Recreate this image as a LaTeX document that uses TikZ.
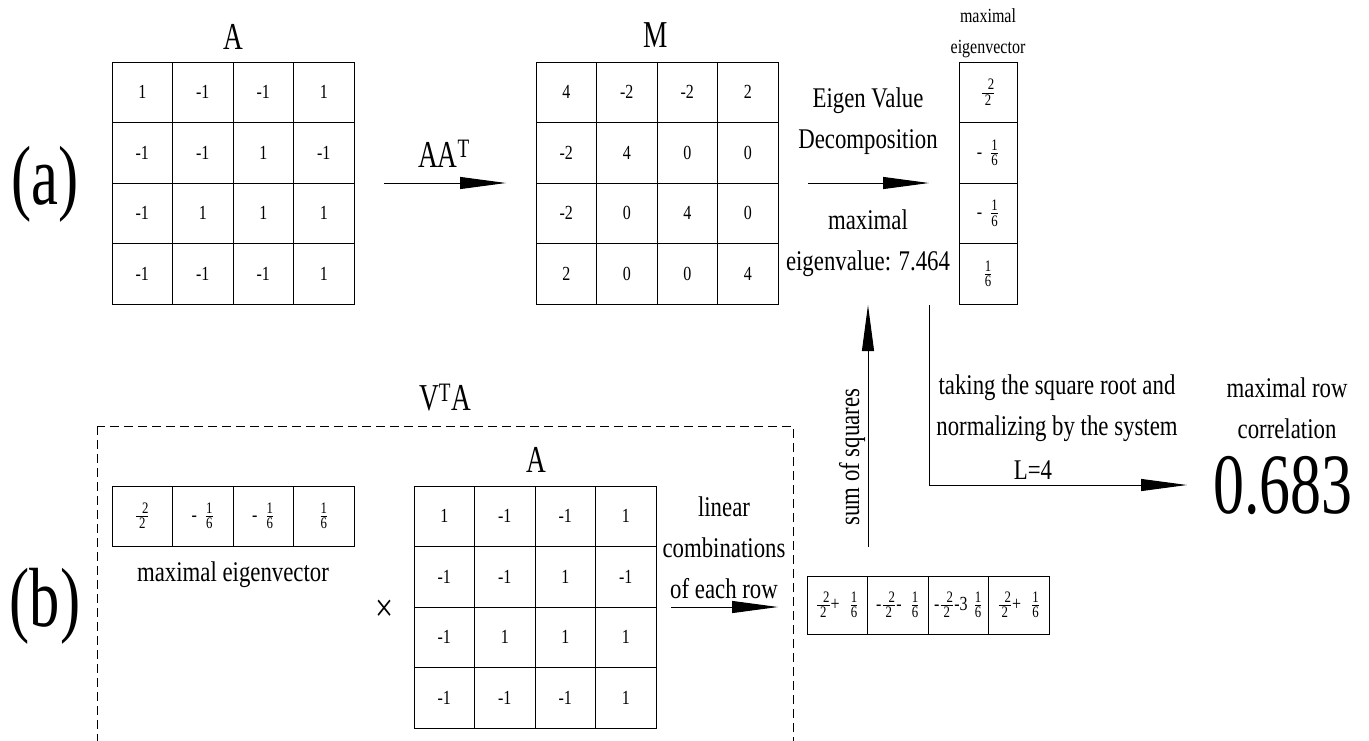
\documentclass[tikz,border=0pt]{standalone}
\usepackage{amsmath}
\usepackage{fontspec}
\setmainfont[FakeStretch=0.8]{Liberation Serif}
\newfontfamily\narrowfont[FakeStretch=0.72]{Liberation Serif}
\usetikzlibrary{arrows.meta}

\newcommand{\fr}[2]{$\genfrac{}{}{0.6pt}{}{\hbox{\fontsize{16}{16}\selectfont #1}}{\hbox{\fontsize{16}{16}\selectfont #2}}$}
\newcommand{\frb}{\fr{\hspace{6pt}2}{2}}

\tikzset{
  cell/.style={draw, line width=1pt, minimum width=60.5pt, minimum height=60.5pt, inner sep=0pt, font=\fontsize{20}{22}\selectfont},
  colcell/.style={cell, minimum width=58pt},
  rowcell/.style={cell, minimum height=60pt},
  rescell/.style={cell, minimum height=58pt},
  lbl/.style={font=\fontsize{28.5}{41}\selectfont, align=center, inner sep=0pt},
  smalllbl/.style={font=\fontsize{20}{31}\selectfont, align=center, inner sep=0pt},
  title/.style={font=\narrowfont\fontsize{38}{40}\selectfont, inner sep=0pt},
  big/.style={font=\narrowfont\fontsize{84}{84}\selectfont, inner sep=0pt},
  conn/.style={line width=1pt, -{Triangle[length=46pt,width=12pt]}}
}

\begin{document}
\begin{tikzpicture}[x=1pt, y=-1pt]
    \useasboundingbox (0,0) rectangle (1369,740);
    \clip (0,0) rectangle (1369,740);
    % part (a)
    \node[big] (lblA) at (45,184) {(a)};
    \node[title] (titleA) at (233,37) {A};
    \node[cell] (Aa11) at (142.25,92.25) {1};
    \node[cell] (Aa12) at (202.75,92.25) {-1};
    \node[cell] (Aa13) at (263.25,92.25) {-1};
    \node[cell] (Aa14) at (323.75,92.25) {1};
    \node[cell] (Aa21) at (142.25,152.75) {-1};
    \node[cell] (Aa22) at (202.75,152.75) {-1};
    \node[cell] (Aa23) at (263.25,152.75) {1};
    \node[cell] (Aa24) at (323.75,152.75) {-1};
    \node[cell] (Aa31) at (142.25,213.25) {-1};
    \node[cell] (Aa32) at (202.75,213.25) {1};
    \node[cell] (Aa33) at (263.25,213.25) {1};
    \node[cell] (Aa34) at (323.75,213.25) {1};
    \node[cell] (Aa41) at (142.25,273.75) {-1};
    \node[cell] (Aa42) at (202.75,273.75) {-1};
    \node[cell] (Aa43) at (263.25,273.75) {-1};
    \node[cell] (Aa44) at (323.75,273.75) {1};

    \coordinate (aatS) at (384,183);
    \coordinate (aatE) at (506,183);
    \draw[conn] (aatS) -- (aatE);
    \node[title, anchor=base] (aat) at (444,167) {AA\textsuperscript{T}};

    \node[title] (titleM) at (656,35) {M};
    \node[cell] (M11) at (566.25,92.25) {4};
    \node[cell] (M12) at (626.75,92.25) {-2};
    \node[cell] (M13) at (687.25,92.25) {-2};
    \node[cell] (M14) at (747.75,92.25) {2};
    \node[cell] (M21) at (566.25,152.75) {-2};
    \node[cell] (M22) at (626.75,152.75) {4};
    \node[cell] (M23) at (687.25,152.75) {0};
    \node[cell] (M24) at (747.75,152.75) {0};
    \node[cell] (M31) at (566.25,213.25) {-2};
    \node[cell] (M32) at (626.75,213.25) {0};
    \node[cell] (M33) at (687.25,213.25) {4};
    \node[cell] (M34) at (747.75,213.25) {0};
    \node[cell] (M41) at (566.25,273.75) {2};
    \node[cell] (M42) at (626.75,273.75) {0};
    \node[cell] (M43) at (687.25,273.75) {0};
    \node[cell] (M44) at (747.75,273.75) {4};

    \coordinate (evdS) at (808,183);
    \coordinate (evdE) at (929,183);
    \draw[conn] (evdS) -- (evdE);
    \node[lbl] (evd) at (868,121) {Eigen Value\\Decomposition};
    \node[lbl] (eigval) at (868,243) {maximal\\eigenvalue: 7.464};

    \node[smalllbl] (vtitle) at (988,33) {maximal\\eigenvector};
    \node[colcell] (v1) at (988,92.25) {\frb};
    \node[colcell] (v2) at (988,152.75) {-\hspace{8pt}\fr{1}{6}};
    \node[colcell] (v3) at (988,213.25) {-\hspace{8pt}\fr{1}{6}};
    \node[colcell] (v4) at (988,273.75) {\fr{1}{6}};

    % part (b)
    \node[big] (lblB) at (45,606) {(b)};
    \draw[line width=1pt, dash pattern=on 9pt off 5pt] (97,426) rectangle (793,770);
    \node[title] (vta) at (445,398) {V\textsuperscript{T}A};

    \node[rowcell] (w1) at (142.25,516) {\frb};
    \node[rowcell] (w2) at (202.75,516) {-\hspace{8pt}\fr{1}{6}};
    \node[rowcell] (w3) at (263.25,516) {-\hspace{8pt}\fr{1}{6}};
    \node[rowcell] (w4) at (323.75,516) {\fr{1}{6}};
    \node[lbl] (wlbl) at (233,575) {maximal eigenvector};
    \node[font=\fontsize{40}{40}\selectfont, inner sep=0pt] (times) at (385,611) {×};

    \node[title] (titleAb) at (536,460) {A};
    \node[cell] (Ab11) at (444.25,516.25) {1};
    \node[cell] (Ab12) at (504.75,516.25) {-1};
    \node[cell] (Ab13) at (565.25,516.25) {-1};
    \node[cell] (Ab14) at (625.75,516.25) {1};
    \node[cell] (Ab21) at (444.25,576.75) {-1};
    \node[cell] (Ab22) at (504.75,576.75) {-1};
    \node[cell] (Ab23) at (565.25,576.75) {1};
    \node[cell] (Ab24) at (625.75,576.75) {-1};
    \node[cell] (Ab31) at (444.25,637.25) {-1};
    \node[cell] (Ab32) at (504.75,637.25) {1};
    \node[cell] (Ab33) at (565.25,637.25) {1};
    \node[cell] (Ab34) at (625.75,637.25) {1};
    \node[cell] (Ab41) at (444.25,697.75) {-1};
    \node[cell] (Ab42) at (504.75,697.75) {-1};
    \node[cell] (Ab43) at (565.25,697.75) {-1};
    \node[cell] (Ab44) at (625.75,697.75) {1};

    \coordinate (linS) at (671,607);
    \coordinate (linE) at (778,607);
    \draw[conn] (linS) -- (linE);
    \node[lbl] (lin) at (724,548) {linear\\combinations\\of each row};

    \node[rescell] (r1) at (837.25,605) {\frb+\hspace{10pt}\fr{1}{6}};
    \node[rescell] (r2) at (897.75,605) {-\frb-\hspace{9pt}\fr{1}{6}};
    \node[rescell] (r3) at (958.25,605) {-\frb-3\hspace{6pt}\fr{1}{6}};
    \node[rescell] (r4) at (1018.75,605) {\frb+\hspace{10pt}\fr{1}{6}};

    % sum of squares and result
    \coordinate (sqS) at (868,547);
    \coordinate (sqE) at (868,305);
    \draw[conn] (sqS) -- (sqE);
    \node[lbl, rotate=90] (sq) at (852,457) {sum of squares};

    \coordinate (normS) at (929,305);
    \coordinate (normE) at (1187,485);
    \draw[conn] (normS) |- (normE);
    \node[lbl] (norm) at (1057,408) {taking the square root and\\normalizing by the system};
    \node[lbl] (normL) at (1033,470) {L=4};

    \node[lbl] (corr) at (1287,408) {maximal row\\correlation};
    \node[big, font=\narrowfont\fontsize{86}{86}\selectfont] (val) at (1283,486) {0.683};
\end{tikzpicture}
\end{document}
